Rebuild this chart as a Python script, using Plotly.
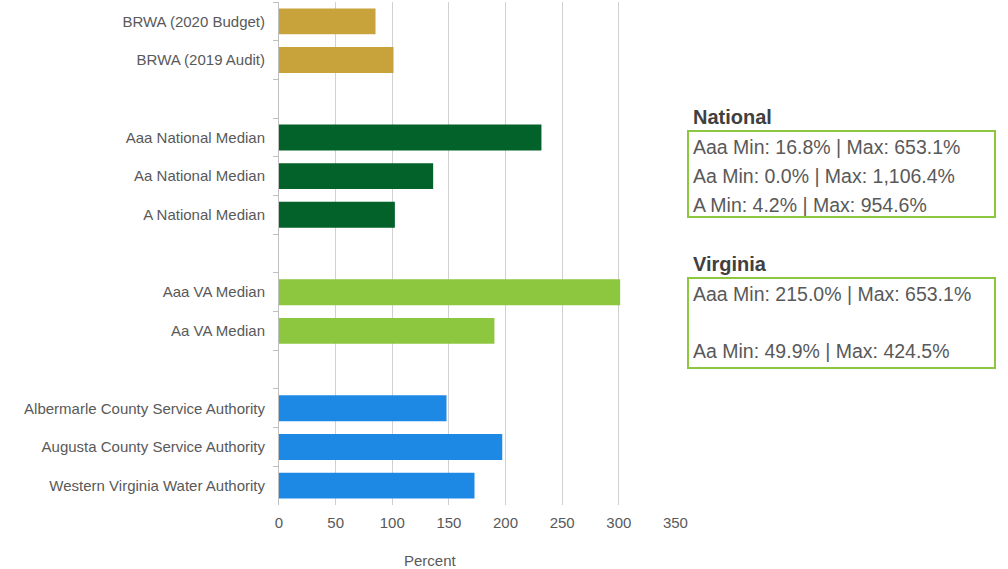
import plotly.graph_objects as go

categories = [
    "BRWA (2020 Budget)", "BRWA (2019 Audit)", " ",
    "Aaa National Median", "Aa National Median", "A National Median", "  ",
    "Aaa VA Median", "Aa VA Median", "   ",
    "Albermarle County Service Authority", "Augusta County Service Authority",
    "Western Virginia Water Authority",
]
values = [85.2, 101.1, None, 231.7, 136.1, 102.3, None, 301.2, 190.2, None, 147.9, 197.1, 172.6]
bar_colors = ["#C8A23A", "#C8A23A", "#FFFFFF",
              "#03612A", "#03612A", "#03612A", "#FFFFFF",
              "#8DC63F", "#8DC63F", "#FFFFFF",
              "#1E88E5", "#1E88E5", "#1E88E5"]
x_ticks = [0, 50, 100, 150, 200, 250, 300, 350]

national_title = "National"
national_lines = ["Aaa Min: 16.8% | Max: 653.1%",
                  "Aa Min: 0.0% | Max: 1,106.4%",
                  "A Min: 4.2% | Max: 954.6%"]
virginia_title = "Virginia"
virginia_lines = ["Aaa Min: 215.0% | Max: 653.1%",
                  "",
                  "Aa Min: 49.9% | Max: 424.5%"]

FONT = "Liberation Sans"
GRAY = "#595959"

fig = go.Figure(go.Bar(
    x=values, y=categories, orientation="h",
    marker=dict(color=bar_colors, line=dict(width=0)),
    hoverinfo="x+y",
))

W, H = 1008, 569
ml, mr, mt, mb = 279, 1008 - 676, 2, 569 - 505
PW, PH = W - ml - mr, H - mt - mb

fig.update_layout(
    width=W, height=H,
    margin=dict(l=ml, r=mr, t=mt, b=mb),
    plot_bgcolor="white", paper_bgcolor="white",
    bargap=0.33, showlegend=False,
    font=dict(family=FONT, size=15, color=GRAY),
    xaxis=dict(range=[0, 350.5], tickvals=x_ticks, showgrid=True,
               gridcolor="#D0D0D0", gridwidth=1, zeroline=False,
               showline=False, ticks="", tickfont=dict(size=15, color=GRAY),
               ticklabelstandoff=7),
    yaxis=dict(categoryorder="array", categoryarray=categories,
               autorange="reversed", showline=True, linecolor="#BFBFBF",
               linewidth=1, ticks="outside", tickson="boundaries",
               ticklen=5, tickcolor="#BFBFBF", showgrid=False,
               tickfont=dict(size=15, color=GRAY), ticklabelstandoff=10),
)

def px_x(p):
    return (p - ml) / PW

def px_y(p):
    return (H - mb - p) / PH

ann = []
ann.append(dict(text="Percent", x=px_x(430), y=px_y(560), xref="paper", yref="paper",
                showarrow=False, xanchor="center", yanchor="middle",
                font=dict(size=15, color=GRAY, family=FONT)))

def box(title, lines, title_y, y0, y1, line_ys):
    ann.append(dict(text="<b>" + title + "</b>", x=px_x(691), y=px_y(title_y),
                    xref="paper", yref="paper", showarrow=False,
                    xanchor="left", yanchor="middle",
                    font=dict(size=20, color="#404040", family=FONT)))
    for t, yy in zip(lines, line_ys):
        if t:
            ann.append(dict(text=t, x=px_x(691), y=px_y(yy), xref="paper", yref="paper",
                            showarrow=False, xanchor="left", yanchor="middle",
                            font=dict(size=19.5, color=GRAY, family=FONT)))
    fig.add_shape(type="rect", xref="paper", yref="paper",
                  x0=px_x(688), x1=px_x(995), y0=px_y(y1), y1=px_y(y0),
                  line=dict(color="#8DC63F", width=2), fillcolor="rgba(0,0,0,0)")

box(national_title, national_lines, 117, 131, 217, [147, 176, 205])
box(virginia_title, virginia_lines, 264, 278, 368, [294, 322, 351])

fig.update_layout(annotations=ann)
fig.write_html("out.html")
